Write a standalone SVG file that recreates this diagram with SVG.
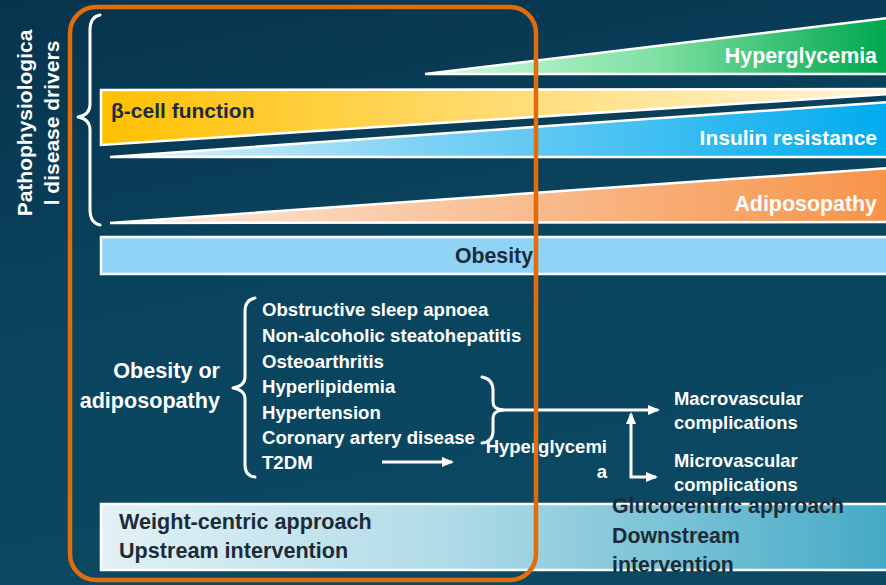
<svg xmlns="http://www.w3.org/2000/svg" width="886" height="585" viewBox="0 0 886 585">
  <style>
    .lbl { font-family: "Liberation Sans", Arial, sans-serif; font-weight: bold; }
    .w { fill: #ffffff; }
    .d { fill: #1d2b38; }
    .band { stroke: #ffffff; stroke-width: 2.5; stroke-linejoin: miter; }
    .brace { fill: none; stroke: #ffffff; stroke-width: 3; stroke-linecap: round; stroke-linejoin: round; }
    .conn { fill: none; stroke: #ffffff; stroke-width: 3; }
  </style>
  <defs>
    <linearGradient id="bg" x1="0" y1="0" x2="0.3" y2="1">
      <stop offset="0" stop-color="#07334d"/>
      <stop offset="0.55" stop-color="#0a445e"/>
      <stop offset="1" stop-color="#0b4862"/>
    </linearGradient>
    <linearGradient id="gGreen" x1="425" y1="0" x2="886" y2="0" gradientUnits="userSpaceOnUse">
      <stop offset="0" stop-color="#d2fae0"/>
      <stop offset="0.5" stop-color="#7fe0a2"/>
      <stop offset="1" stop-color="#00a84f"/>
    </linearGradient>
    <linearGradient id="gYellow" x1="101" y1="0" x2="886" y2="0" gradientUnits="userSpaceOnUse">
      <stop offset="0" stop-color="#ffc000"/>
      <stop offset="0.45" stop-color="#ffd966"/>
      <stop offset="1" stop-color="#fff5dc"/>
    </linearGradient>
    <linearGradient id="gBlue" x1="110" y1="0" x2="886" y2="0" gradientUnits="userSpaceOnUse">
      <stop offset="0" stop-color="#e6f6fd"/>
      <stop offset="0.4" stop-color="#7fd2f5"/>
      <stop offset="1" stop-color="#00acee"/>
    </linearGradient>
    <linearGradient id="gOrange" x1="110" y1="0" x2="886" y2="0" gradientUnits="userSpaceOnUse">
      <stop offset="0" stop-color="#fdebe0"/>
      <stop offset="0.5" stop-color="#f9bf94"/>
      <stop offset="1" stop-color="#f7944a"/>
    </linearGradient>
    <linearGradient id="gBottom" x1="101" y1="0" x2="886" y2="0" gradientUnits="userSpaceOnUse">
      <stop offset="0" stop-color="#e2f1f6"/>
      <stop offset="0.45" stop-color="#aedbe7"/>
      <stop offset="1" stop-color="#45aac6"/>
    </linearGradient>
    <marker id="ah" viewBox="0 0 12 10" refX="10" refY="5" markerWidth="12" markerHeight="10" markerUnits="userSpaceOnUse" orient="auto-start-reverse">
      <path d="M0,0 L12,5 L0,10 Z" fill="#ffffff"/>
    </marker>
  </defs>

  <!-- background -->
  <rect x="0" y="0" width="886" height="585" fill="url(#bg)"/>

  <!-- side title -->
  <g id="title-drivers">
    <text class="lbl w" font-size="21" text-anchor="middle" transform="translate(32,123) rotate(-90)">Pathophysiologica</text>
    <text class="lbl w" font-size="21" text-anchor="middle" transform="translate(59,123) rotate(-90)">l disease drivers</text>
  </g>

  <!-- brace grouping the four drivers -->
  <path id="brace-drivers" class="brace" d="M100,15 Q90,17 90,30 L90,104 Q90,115 78,117 Q90,119 90,130 L90,210 Q90,223 100,225"/>

  <!-- driver bands -->
  <g id="band-hyperglycemia">
    <polygon class="band" points="425,74 888,18 888,74" fill="url(#gGreen)"/>
    <text class="lbl w" font-size="21.4" text-anchor="end" x="877" y="63">Hyperglycemia</text>
  </g>
  <g id="band-beta-cell">
    <polygon class="band" points="101,90 888,89 888,94 101,145" fill="url(#gYellow)"/>
    <text class="lbl d" font-size="21" x="111" y="118">β-cell function</text>
  </g>
  <g id="band-insulin-resistance">
    <polygon class="band" points="110,157 888,102 888,157" fill="url(#gBlue)"/>
    <text class="lbl w" font-size="21" text-anchor="end" x="877" y="145">Insulin resistance</text>
  </g>
  <g id="band-adiposopathy">
    <polygon class="band" points="110,223 888,168 888,222" fill="url(#gOrange)"/>
    <text class="lbl w" font-size="21.4" text-anchor="end" x="877" y="211">Adiposopathy</text>
  </g>

  <!-- obesity bar -->
  <g id="bar-obesity">
    <rect x="101" y="237" width="790" height="37" fill="#8fd4f7" stroke="#ffffff" stroke-width="2.5"/>
    <text class="lbl d" font-size="21.3" text-anchor="end" x="533" y="263">Obesity</text>
  </g>

  <!-- obesity / adiposopathy consequences -->
  <g id="node-obesity-or-adiposopathy">
    <text class="lbl w" font-size="21.6" text-anchor="end" x="220" y="378">Obesity or</text>
    <text class="lbl w" font-size="21.6" text-anchor="end" x="220" y="408">adiposopathy</text>
  </g>
  <path id="brace-conditions" class="brace" d="M255,298 Q245,300 245,311 L245,377 Q245,386 233,388 Q245,390 245,399 L245,465 Q245,476 255,477"/>
  <g id="node-conditions" class="lbl w" font-size="18.6">
    <text x="262" y="316">Obstructive sleep apnoea</text>
    <text x="262" y="342">Non-alcoholic steatohepatitis</text>
    <text x="262" y="368">Osteoarthritis</text>
    <text x="262" y="393">Hyperlipidemia</text>
    <text x="262" y="419">Hypertension</text>
    <text x="262" y="444">Coronary artery disease</text>
    <text x="262" y="469">T2DM</text>
  </g>

  <g id="node-hyperglycemia">
    <text class="lbl w" font-size="18.5" text-anchor="end" x="607" y="453">Hyperglycemi</text>
    <text class="lbl w" font-size="18.5" text-anchor="end" x="607" y="478">a</text>
  </g>

  <g id="node-macrovascular">
    <text class="lbl w" font-size="18.4" x="674" y="405">Macrovascular</text>
    <text class="lbl w" font-size="18.4" x="674" y="429">complications</text>
  </g>
  <g id="node-microvascular">
    <text class="lbl w" font-size="18.4" x="674" y="467">Microvascular</text>
    <text class="lbl w" font-size="18.4" x="674" y="491">complications</text>
  </g>

  <!-- connectors -->
  <g id="connectors">
    <line class="conn" x1="382" y1="462" x2="452" y2="462" marker-end="url(#ah)"/>
    <path class="brace" d="M482,377 Q493,379 493,390 L493,402 Q493,409 503,410 Q493,411 493,418 L493,431 Q493,442 482,443"/>
    <line class="conn" x1="501" y1="410" x2="658" y2="410" marker-end="url(#ah)"/>
    <path class="conn" d="M631,414 L631,477 L656,477" marker-start="url(#ah)" marker-end="url(#ah)"/>
  </g>

  <!-- intervention bar -->
  <g id="bar-intervention">
    <rect x="101" y="504" width="790" height="66" fill="url(#gBottom)" stroke="#ffffff" stroke-width="2.5"/>
    <text class="lbl d" font-size="21.6" x="119" y="529">Weight-centric approach</text>
    <text class="lbl d" font-size="21.6" x="119" y="558">Upstream intervention</text>
    <text class="lbl d" font-size="21.3" x="612" y="513">Glucocentric approach</text>
    <text class="lbl d" font-size="21.3" x="612" y="543">Downstream</text>
    <text class="lbl d" font-size="21.3" x="612" y="572">intervention</text>
  </g>

  <!-- highlight frame over the upstream column -->
  <rect id="highlight-frame" x="70" y="7" width="466" height="573" rx="26" ry="26" fill="none" stroke="#e36c0a" stroke-width="4.5"/>
</svg>
